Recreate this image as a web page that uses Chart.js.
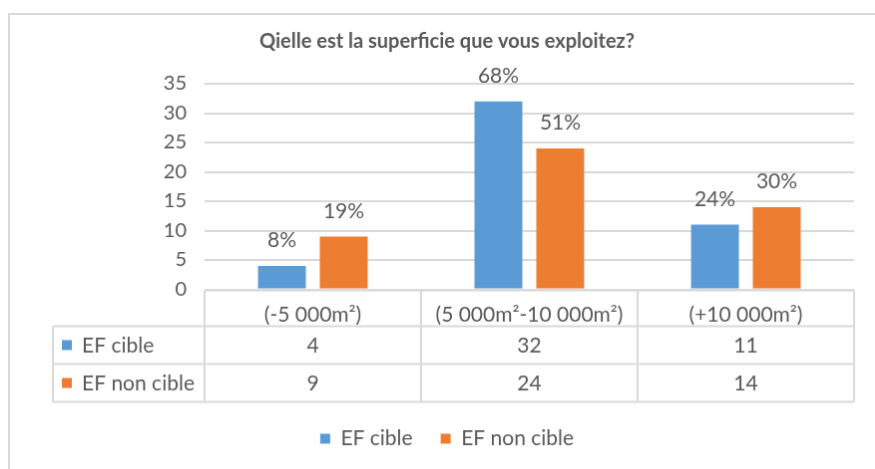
<!DOCTYPE html>
<html><head><meta charset="utf-8">
<script src="https://cdn.jsdelivr.net/npm/chart.js@4.4.1/dist/chart.umd.min.js"></script>
<style>
html,body{margin:0;padding:0;background:#fff;overflow:hidden;width:875px;height:469px;}
#c{position:absolute;left:8px;top:13px;border-left:2px solid #d9d9d9;border-top:2px solid #d9d9d9;}
</style></head>
<body>
<canvas id="c" width="876" height="468"></canvas>
<script>
const titleText = 'Qielle est la superficie que vous exploitez?';
const categories = ['(-5 000m²)', '(5 000m²-10 000m²)', '(+10 000m²)'];
const seriesNames = ['EF cible', 'EF non cible'];
const efCible = [4, 32, 11];
const efNonCible = [9, 24, 14];
const pctCible = ['8%', '68%', '24%'];
const pctNonCible = ['19%', '51%', '30%'];
const yTicks = [0, 5, 10, 15, 20, 25, 30, 35];

const FONT = 'Lato, "Open Sans", sans-serif';
const GRAY = '#595959';
const LINE = '#d9d9d9';
const COLORS = ['#5B9BD5', '#ED7D31'];
const FS = 21;

const tablePlugin = {
  id: 'tablePlugin',
  afterDraw(chart) {
    const ctx = chart.ctx;
    const xs = chart.scales.x;
    const ca = chart.chartArea;
    const n = categories.length;
    const cw = (ca.right - ca.left) / n;
    const headerH = 36, rowH = 38;
    const top = ca.bottom + 1;
    const r1 = top + headerH, r2 = r1 + rowH, r3 = r2 + rowH;
    const leftX = 43;
    ctx.save();
    ctx.strokeStyle = LINE; ctx.lineWidth = 2;
    ctx.beginPath();
    ctx.moveTo(ca.left, top); ctx.lineTo(ca.right, top);
    [r1, r2, r3].forEach(y => { ctx.moveTo(leftX, y); ctx.lineTo(ca.right, y); });
    ctx.moveTo(leftX, r1); ctx.lineTo(leftX, r3);
    for (let i = 0; i <= n; i++) {
      const x = ca.left + i * cw;
      ctx.moveTo(x, top); ctx.lineTo(x, r3);
    }
    ctx.stroke();
    ctx.font = FS + 'px ' + FONT;
    ctx.textBaseline = 'middle';
    const rows = [efCible, efNonCible];
    [r1, r2].forEach((y0, k) => {
      const cy = y0 + rowH / 2;
      ctx.fillStyle = COLORS[k];
      ctx.fillRect(52, cy - 5, 10, 10);
      ctx.fillStyle = GRAY;
      ctx.textAlign = 'left';
      ctx.fillText(seriesNames[k], 72, cy + 1);
      ctx.textAlign = 'center';
      rows[k].forEach((v, i) => {
        ctx.fillText(String(v), xs.getPixelForValue(i), cy + 1);
      });
    });
    const pcts = [pctCible, pctNonCible];
    ctx.textBaseline = 'bottom';
    ctx.textAlign = 'center';
    chart.data.datasets.forEach((ds, k) => {
      chart.getDatasetMeta(k).data.forEach((bar, i) => {
        ctx.fillText(pcts[k][i], bar.x, bar.y - 15);
      });
    });
    ctx.restore();
  }
};

new Chart(document.getElementById('c'), {
  type: 'bar',
  data: {
    labels: categories,
    datasets: [
      { label: seriesNames[0], data: efCible, backgroundColor: COLORS[0] },
      { label: seriesNames[1], data: efNonCible, backgroundColor: COLORS[1] }
    ]
  },
  options: {
    responsive: false,
    animation: false,
    devicePixelRatio: 1,
    categoryPercentage: 0.571,
    barPercentage: 0.774,
    layout: { padding: { top: 0, right: 30, bottom: 22, left: 30 } },
    plugins: {
      title: {
        display: true, text: titleText, color: GRAY,
        font: { family: FONT, size: 20, weight: 'bold' },
        padding: { top: 15, bottom: 30 }
      },
      legend: {
        position: 'bottom',
        labels: {
          color: GRAY, font: { family: FONT, size: FS },
          boxWidth: 10, boxHeight: 10, padding: 28
        }
      },
      tooltip: { enabled: false }
    },
    scales: {
      y: {
        min: 0, max: 35,
        afterBuildTicks: s => { s.ticks = yTicks.map(v => ({ value: v })); },
        afterFit: s => { s.width = 165; },
        border: { display: false },
        grid: { color: LINE, lineWidth: 2, drawTicks: false },
        ticks: { color: GRAY, font: { family: FONT, size: 20 }, padding: 18 }
      },
      x: {
        afterFit: s => { s.height = 111.5; },
        border: { display: false },
        grid: { display: false },
        ticks: { color: GRAY, font: { family: FONT, size: FS }, padding: 5, maxRotation: 0, autoSkip: false }
      }
    }
  },
  plugins: [tablePlugin]
});
</script>
</body></html>
